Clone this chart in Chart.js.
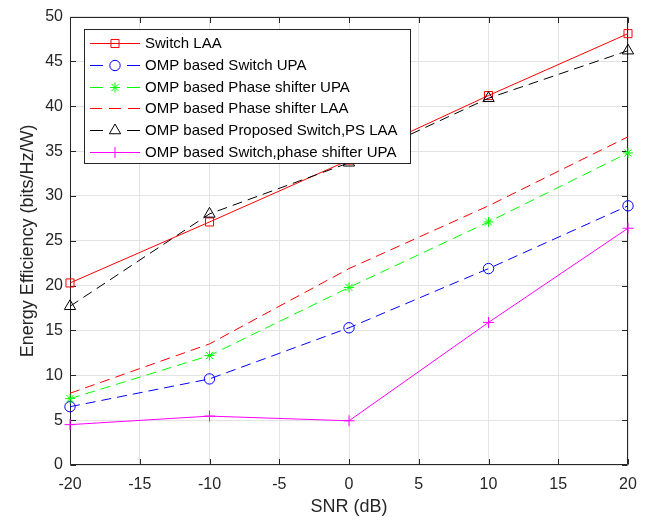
<!DOCTYPE html>
<html>
<head>
<meta charset="utf-8">
<script src="https://cdn.jsdelivr.net/npm/chart.js@4.4.1/dist/chart.umd.min.js"></script>
<style>
html,body{margin:0;padding:0;background:#fff}
#wrap{width:650px;height:521px;position:relative;background:#fff}
</style>
</head>
<body>
<div id="wrap"><canvas id="c" width="650" height="521"></canvas></div>
<script>
// ---- data ----
const snr = [-20, -10, 0, 10, 20];
const xTickValues = [-20, -15, -10, -5, 0, 5, 10, 15, 20];
const yTickValues = [0, 5, 10, 15, 20, 25, 30, 35, 40, 45, 50];
const seriesNames = [
  "Switch LAA",
  "OMP based Switch UPA",
  "OMP based Phase shifter UPA",
  "OMP based Phase shifter LAA",
  "OMP based Proposed Switch,PS LAA",
  "OMP based Switch,phase shifter UPA"
];
const switchLAA        = [20.3, 27.1, 34.0, 41.2, 48.1];
const ompSwitchUPA     = [6.5, 9.6, 15.3, 21.9, 28.9];
const ompPhaseUPA      = [7.4, 12.2, 19.8, 27.1, 34.8];
const ompPhaseLAA      = [8.0, 13.5, 21.9, 28.9, 36.6];
const ompProposedLAA   = [17.7, 28.0, 33.7, 40.9, 46.2];
const ompSwitchPhaseUPA= [4.5, 5.45, 4.93, 15.9, 26.4];

// ---- styles ----
const FONT = "'Liberation Sans', Arial, Helvetica, sans-serif";
const DASH = [10, 6];
const styles = [
  {color: '#ff0000', dash: [],   marker: 'rect',     r: 5.7},
  {color: '#0000ff', dash: DASH, marker: 'circle',   r: 5.2},
  {color: '#00ff00', dash: DASH, marker: 'star',     r: 5},
  {color: '#ff0000', dash: DASH, marker: null,       r: 0},
  {color: '#000000', dash: DASH, marker: 'triangle', r: 6.5},
  {color: '#ff00ff', dash: [],   marker: 'cross',    r: 5.5}
];
const seriesValues = [switchLAA, ompSwitchUPA, ompPhaseUPA, ompPhaseLAA, ompProposedLAA, ompSwitchPhaseUPA];

const datasets = seriesValues.map((vals, i) => ({
  label: seriesNames[i],
  data: snr.map((x, k) => ({x: x, y: vals[k]})),
  borderColor: styles[i].color,
  borderWidth: 1,
  borderDash: styles[i].dash,
  backgroundColor: 'rgba(0,0,0,0)',
  pointStyle: styles[i].marker || 'circle',
  pointRadius: styles[i].marker ? styles[i].r : 0,
  pointHoverRadius: styles[i].marker ? styles[i].r : 0,
  pointBorderColor: styles[i].color,
  pointBackgroundColor: 'rgba(0,0,0,0)',
  pointBorderWidth: 1,
  tension: 0,
  fill: false,
  clip: false,
  order: seriesValues.length - i
}));

function drawMarker(ctx, style, x, y, r) {
  ctx.beginPath();
  if (style === 'rect') {
    const s = Math.SQRT1_2 * r;
    ctx.rect(x - s, y - s, 2 * s, 2 * s);
  } else if (style === 'circle') {
    ctx.arc(x, y, r, 0, Math.PI * 2);
  } else if (style === 'triangle') {
    for (let k = 0; k < 3; k++) {
      const a = -Math.PI / 2 + k * 2 * Math.PI / 3;
      const px = x + r * Math.cos(a), py = y + r * Math.sin(a);
      if (k === 0) ctx.moveTo(px, py); else ctx.lineTo(px, py);
    }
    ctx.closePath();
  } else if (style === 'cross') {
    ctx.moveTo(x, y - r); ctx.lineTo(x, y + r);
    ctx.moveTo(x - r, y); ctx.lineTo(x + r, y);
  } else if (style === 'star') {
    ctx.moveTo(x, y - r); ctx.lineTo(x, y + r);
    ctx.moveTo(x - r, y); ctx.lineTo(x + r, y);
    const d = r * Math.SQRT1_2;
    ctx.moveTo(x - d, y - d); ctx.lineTo(x + d, y + d);
    ctx.moveTo(x - d, y + d); ctx.lineTo(x + d, y - d);
  }
  ctx.stroke();
}

const framePlugin = {
  id: 'frame',
  beforeDatasetsDraw(chart) {
    const {ctx, chartArea: a, scales: {x, y}} = chart;
    ctx.save();
    ctx.strokeStyle = '#262626';
    ctx.lineWidth = 1;
    const L = Math.round(a.left) + 0.5, R = Math.round(a.right) - 0.5;
    const T = Math.round(a.top) + 0.5, B = Math.round(a.bottom) - 0.5;
    ctx.beginPath();
    ctx.rect(L, T, R - L, B - T);
    ctx.stroke();
    const tl = 5.5;
    ctx.beginPath();
    xTickValues.forEach(v => {
      const px = Math.round(x.getPixelForValue(v)) + 0.5;
      ctx.moveTo(px, B); ctx.lineTo(px, B - tl);
      ctx.moveTo(px, T); ctx.lineTo(px, T + tl);
    });
    yTickValues.forEach(v => {
      const py = Math.round(y.getPixelForValue(v)) + 0.5;
      ctx.moveTo(L, py); ctx.lineTo(L + tl, py);
      ctx.moveTo(R, py); ctx.lineTo(R - tl, py);
    });
    ctx.stroke();
    ctx.restore();
  }
};

const legendPlugin = {
  id: 'matlabLegend',
  afterDraw(chart) {
    const ctx = chart.ctx;
    ctx.save();
    const bx = 84.5, by = 29.5, bw = 326, bh = 134;
    ctx.fillStyle = '#ffffff';
    ctx.fillRect(bx, by, bw, bh);
    ctx.strokeStyle = '#262626';
    ctx.lineWidth = 1;
    ctx.strokeRect(bx, by, bw, bh);
    ctx.font = '15px ' + FONT;
    ctx.textBaseline = 'middle';
    ctx.textAlign = 'left';
    seriesNames.forEach((name, i) => {
      const st = styles[i];
      const yy = Math.round(43.3 + i * 21.7) + 0.5;
      ctx.strokeStyle = st.color;
      ctx.lineWidth = 1;
      ctx.setLineDash([]);
      ctx.beginPath();
      if (st.dash.length === 0) {
        ctx.moveTo(90, yy); ctx.lineTo(140, yy);
      } else if (st.marker) {
        ctx.moveTo(90, yy); ctx.lineTo(103, yy);
        ctx.moveTo(127, yy); ctx.lineTo(140, yy);
      } else {
        ctx.moveTo(90, yy); ctx.lineTo(102, yy);
        ctx.moveTo(109, yy); ctx.lineTo(121, yy);
        ctx.moveTo(128, yy); ctx.lineTo(140, yy);
      }
      ctx.stroke();
      if (st.marker) drawMarker(ctx, st.marker, 115, yy, st.r);
      ctx.fillStyle = '#000000';
      ctx.fillText(name, 145, yy + 0.5);
    });
    ctx.restore();
  }
};

Chart.defaults.font.family = FONT;
Chart.defaults.color = '#262626';

new Chart(document.getElementById('c'), {
  type: 'line',
  data: {datasets: datasets},
  options: {
    responsive: false,
    animation: false,
    events: [],
    layout: {padding: {top: 15, right: 22, left: 0, bottom: 0}},
    plugins: {legend: {display: false}, tooltip: {enabled: false}},
    scales: {
      x: {
        type: 'linear',
        min: -20, max: 20,
        afterBuildTicks: s => { s.ticks = xTickValues.map(v => ({value: v})); },
        afterFit: s => { s.height = 56; },
        grid: {color: '#e3e3e3', drawTicks: false, lineWidth: 1},
        border: {display: false},
        ticks: {color: '#262626', font: {size: 16, family: FONT}, padding: 10, maxRotation: 0, autoSkip: false},
        title: {display: true, text: 'SNR (dB)', color: '#262626', font: {size: 18, family: FONT}, padding: {top: 0, bottom: 3}}
      },
      y: {
        type: 'linear',
        min: 0, max: 50,
        afterBuildTicks: s => { s.ticks = yTickValues.map(v => ({value: v})); },
        afterFit: s => { s.width = 70; },
        grid: {color: '#e3e3e3', drawTicks: false, lineWidth: 1},
        border: {display: false},
        ticks: {color: '#262626', font: {size: 16, family: FONT}, padding: 7, autoSkip: false},
        title: {display: true, text: 'Energy Efficiency (bits/Hz/W)', color: '#262626', font: {size: 18, family: FONT}, padding: {top: 17, bottom: 0}}
      }
    }
  },
  plugins: [framePlugin, legendPlugin]
});
</script>
</body>
</html>
